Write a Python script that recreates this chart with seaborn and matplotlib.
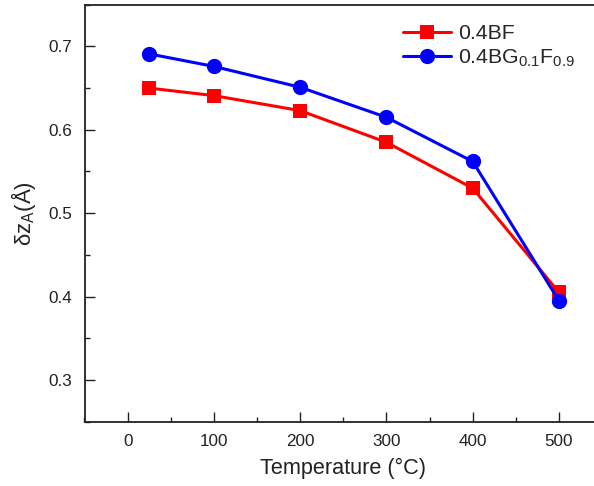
import matplotlib
matplotlib.use("Agg")
import matplotlib.pyplot as plt
from matplotlib.ticker import MultipleLocator
import pandas as pd
import seaborn as sns

temperature = [25, 100, 200, 300, 400, 500]
dz_bf = [0.650, 0.641, 0.623, 0.585, 0.530, 0.405]
dz_bgf = [0.691, 0.676, 0.651, 0.615, 0.562, 0.395]
series_labels = ["0.4BF", r"0.4BG$_{0.1}$F$_{0.9}$"]
x_ticks = [0, 100, 200, 300, 400, 500]
y_ticks = [0.3, 0.4, 0.5, 0.6, 0.7]

sns.set_style("ticks")
plt.rcParams["font.family"] = ["Liberation Sans", "DejaVu Sans"]
plt.rcParams["mathtext.fontset"] = "custom"
plt.rcParams["mathtext.rm"] = "Liberation Sans"
plt.rcParams["mathtext.it"] = "Liberation Sans:italic"
plt.rcParams["mathtext.bf"] = "Liberation Sans:bold"

df = pd.DataFrame({
    "T": temperature * 2,
    "dz": dz_bf + dz_bgf,
    "sample": [series_labels[0]] * len(temperature) + [series_labels[1]] * len(temperature),
})

fig = plt.figure(figsize=(5.94, 4.86), dpi=100)
ax = fig.add_axes([84.5 / 594, 1 - 421.7 / 486, 517.6 / 594, 417.0 / 486])

sns.lineplot(
    data=df, x="T", y="dz", hue="sample", style="sample",
    palette={series_labels[0]: "#ff0000", series_labels[1]: "#0000ff"},
    markers={series_labels[0]: "s", series_labels[1]: "o"},
    dashes=False, linewidth=2.2, markeredgewidth=0,
    ax=ax, legend=False,
)
lines = ax.get_lines()
lines[0].set_markersize(9.6)
lines[1].set_markersize(11)

ax.set_xlim(-50, 550)
ax.set_ylim(0.25, 0.75)
ax.set_xticks(x_ticks)
ax.set_yticks(y_ticks)
ax.xaxis.set_minor_locator(MultipleLocator(50))
ax.yaxis.set_minor_locator(MultipleLocator(0.05))
ax.tick_params(which="both", direction="in", top=False, right=False,
               width=1.0, color="#222222", labelsize=12.3, labelcolor="#222222")
ax.tick_params(which="major", length=7, pad=9)
ax.tick_params(which="minor", length=3.5)
for s in ax.spines.values():
    s.set_linewidth(1.3)
    s.set_color("#222222")
    s.set_visible(True)

ax.set_xlabel("Temperature (°C)", fontsize=15.6, color="#222222", labelpad=6)
ax.set_ylabel(r"δz$_\mathrm{A}$(Å)", fontsize=16, color="#222222", labelpad=7)

leg = ax.legend(lines, series_labels, loc="upper left",
                bbox_to_anchor=(402.5 / 594, 1 - 24 / 486), bbox_transform=fig.transFigure,
                frameon=False, fontsize=15.3, handlelength=2.3, handletextpad=0.31,
                labelspacing=0.2, borderpad=0, borderaxespad=0)

fig.savefig("out.png", dpi=100)
